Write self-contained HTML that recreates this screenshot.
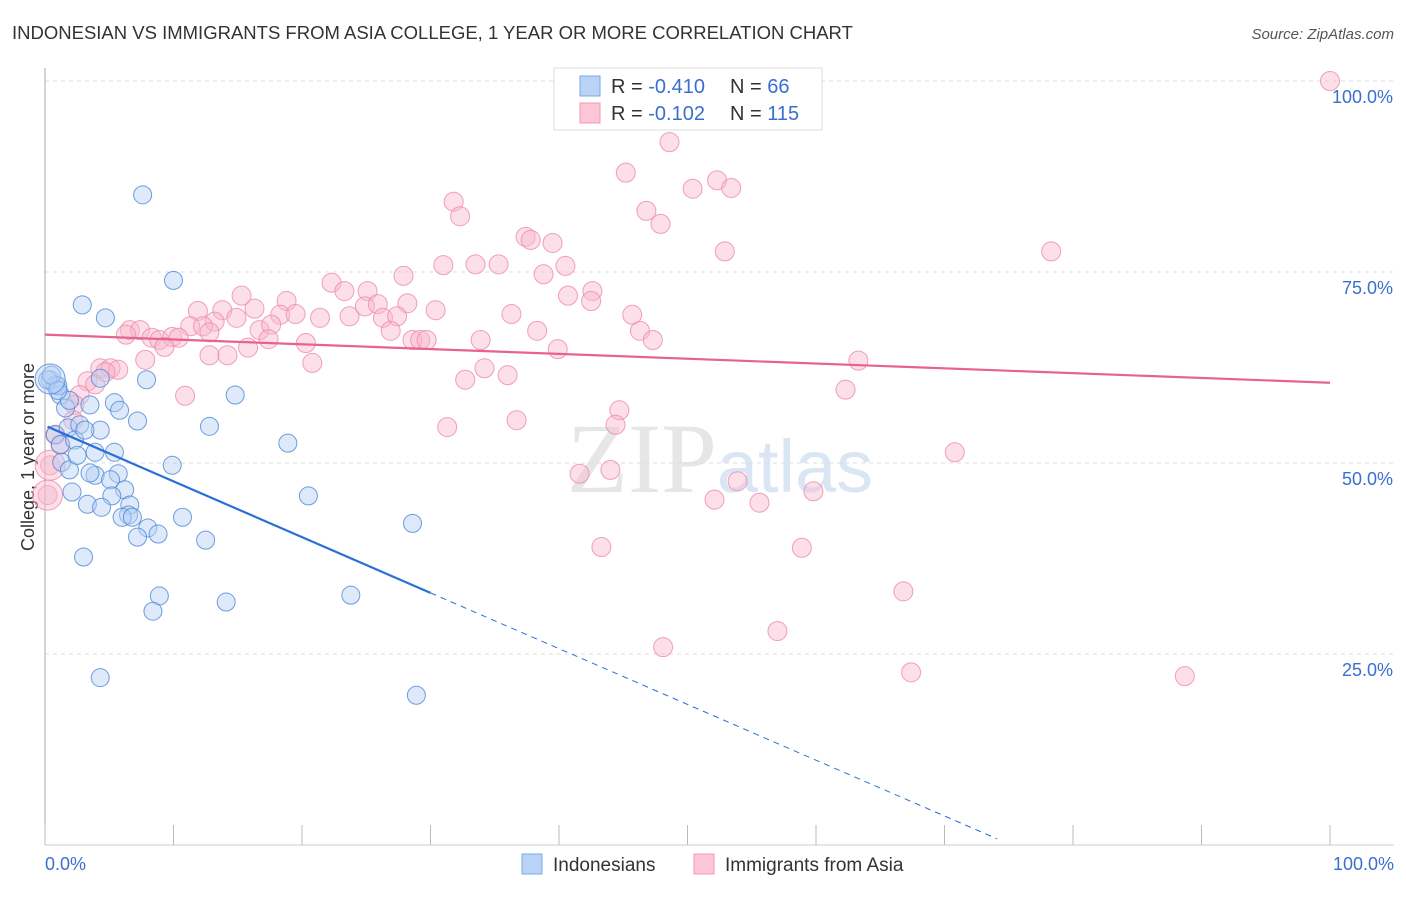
<!DOCTYPE html>
<html><head><meta charset="utf-8">
<style>
body{margin:0;background:#fff;font-family:"Liberation Sans",sans-serif}
#wrap{position:relative;width:1406px;height:892px}
</style></head>
<body>
<div id="wrap">
<svg id="svg" width="1406" height="892" xmlns="http://www.w3.org/2000/svg">
<text x="12" y="39" font-size="18.5" fill="#333">INDONESIAN VS IMMIGRANTS FROM ASIA COLLEGE, 1 YEAR OR MORE CORRELATION CHART</text>
<text x="1394" y="39" font-size="15" fill="#555" font-style="italic" text-anchor="end">Source: ZipAtlas.com</text>
<text x="720" y="492" font-size="100" fill="#e6e6e6" text-anchor="middle" font-family="Liberation Serif">ZIP<tspan fill="#dbe6f4" font-family="Liberation Sans" font-size="74">atlas</tspan></text>
<text transform="translate(34,457) rotate(-90)" font-size="18" fill="#333" text-anchor="middle">College, 1 year or more</text>
<g id="grid"></g>
<g id="pts"></g>
<g id="lines"></g>
<g>
<rect x="554" y="68" width="268" height="62" fill="#fff" stroke="#ddd"/>
<rect x="580" y="76" width="20" height="20" fill="#b8d3f5" stroke="#7aa8e8"/>
<rect x="580" y="103" width="20" height="20" fill="#fcc6d6" stroke="#f09ab5"/>
<text x="611" y="93" font-size="20" fill="#333">R = <tspan fill="#3a6fd0">-0.410</tspan></text>
<text x="730" y="93" font-size="20" fill="#333">N = <tspan fill="#3a6fd0"> 66</tspan></text>
<text x="611" y="120" font-size="20" fill="#333">R = <tspan fill="#3a6fd0"> -0.102</tspan></text>
<text x="730" y="120" font-size="20" fill="#333">N = <tspan fill="#3a6fd0">115</tspan></text>
</g>
<g>
<rect x="522" y="854" width="20" height="20" fill="#b8d3f5" stroke="#7aa8e8"/>
<text x="553" y="871" font-size="19" fill="#333">Indonesians</text>
<rect x="694" y="854" width="20" height="20" fill="#fcc6d6" stroke="#f09ab5"/>
<text x="725" y="871" font-size="19" fill="#333">Immigrants from Asia</text>
</g>
</svg>
</div>
<script>
const xTicks=[0,10,20,30,40,50,60,70,80,90,100];
const yTicks=[25,50,75,100];
const yTickLabels=["25.0%","50.0%","75.0%","100.0%"];
const xEndLabels=["0.0%","100.0%"];
const blueX=[7.6,10.0,2.9,4.7,7.9,14.8,0.4,0.8,1.2,4.3,1.6,3.5,5.4,5.8,7.2,12.8,18.9,9.9,0.8,1.8,2.7,4.3,1.2,2.3,1.3,3.9,5.4,1.9,3.9,5.7,3.5,5.1,6.2,2.1,5.2,3.3,4.4,6.6,6.5,6.0,6.8,8.0,8.8,7.2,10.7,12.5,20.5,28.6,3.0,8.9,8.4,14.1,23.8,4.3,28.9,1.0,0.2,1.9,3.1,2.5,0.5,1.0];
const blueY=[85.1,73.9,70.7,69.0,60.9,58.9,60.9,60.2,58.9,61.1,57.2,57.6,57.9,56.9,55.5,54.8,52.6,49.7,53.7,54.6,55.0,54.3,52.4,53.0,50.1,51.4,51.4,49.1,48.4,48.6,48.7,47.8,46.5,46.2,45.7,44.6,44.2,44.5,43.2,42.9,42.9,41.5,40.7,40.3,42.9,39.9,45.7,42.1,37.7,32.6,30.6,31.8,32.7,21.9,19.6,60.1,60.9,58.2,54.3,51.0,61.5,59.5];
const pinkX=[100,48.6,45.2,50.4,52.3,53.4,31.8,32.3,46.8,47.9,37.4,37.8,39.5,52.9,78.3,31.0,33.5,35.3,40.5,38.8,27.9,22.3,23.3,25.1,15.3,18.8,11.9,13.8,16.3,18.3,19.5,21.4,23.7,24.9,25.9,28.2,30.4,26.3,27.4,36.3,40.7,42.6,42.5,45.7,46.3,47.3,14.9,13.2,11.3,12.3,12.8,16.7,17.6,17.4,26.9,28.6,29.2,29.7,33.9,38.3,39.9,6.6,7.4,6.3,8.3,8.9,9.9,10.4,9.3,15.8,12.8,14.2,20.3,7.8,20.8,4.3,5.1,5.7,3.3,3.9,4.7,2.7,10.9,32.7,34.2,36.0,63.3,62.3,2.3,2.2,44.7,44.4,36.7,31.3,41.6,44.0,53.9,52.1,55.6,59.8,70.8,43.3,58.9,66.8,57.0,48.1,67.4,88.7,0.4,0.2,0.8,1.2];
const pinkY=[100,92.0,88.0,85.9,87.0,86.0,84.2,82.3,83.0,81.3,79.6,79.2,78.8,77.7,77.7,75.9,76.0,76.0,75.8,74.7,74.5,73.6,72.5,72.5,71.9,71.2,69.9,70.0,70.2,69.4,69.5,69.0,69.2,70.5,70.8,70.9,70.0,69.0,69.2,69.5,71.9,72.5,71.2,69.4,67.3,66.1,69.0,68.5,67.9,67.9,67.1,67.4,68.1,66.2,67.3,66.1,66.1,66.1,66.1,67.3,64.9,67.4,67.4,66.8,66.4,66.1,66.5,66.4,65.2,65.1,64.1,64.1,65.7,63.5,63.1,62.4,62.4,62.2,60.7,60.3,61.9,58.9,58.8,60.9,62.4,61.5,63.4,59.6,57.6,55.6,56.9,55.0,55.6,54.7,48.6,49.1,47.6,45.2,44.8,46.3,51.4,39.0,38.9,33.2,28.0,25.9,22.6,22.1,49.7,45.8,53.7,52.4];
const bigBlueX=[0.4], bigBlueY=[61.0];
const bigPinkX=[0.2,0.4], bigPinkY=[45.8,49.7];
const blueLine=[54.9,-0.73], blueSolidEnd=30, blueDashEnd=74.1;
const pinkLine=[66.8,-0.063];

const X0=45,X1=1330,Y0=845,Y1=81;
const sx=v=>X0+(X1-X0)*v/100;
const sy=v=>Y0-(Y0-Y1)*v/100;
const NS="http://www.w3.org/2000/svg";
function mk(tag,attrs,parent){const e=document.createElementNS(NS,tag);for(const k in attrs)e.setAttribute(k,attrs[k]);parent.appendChild(e);return e;}
const grid=document.getElementById('grid'),pts=document.getElementById('pts'),lines=document.getElementById('lines');
yTicks.forEach((t,i)=>{
  const l=mk('line',{x1:X0,x2:1394,y1:sy(t),y2:sy(t),stroke:'#ddd','stroke-dasharray':'4,4'},grid);
  
  
  const tx=mk('text',{x:1393,y:sy(t)+22,'font-size':18,fill:'#3a6fd0','text-anchor':'end'},grid);
  tx.textContent=yTickLabels[i];
  
  
});
const ax=mk('line',{x1:X0,x2:X0,y1:68,y2:Y0,stroke:'#aaa'},grid);


const bx=mk('line',{x1:X0,x2:1394,y1:Y0,y2:Y0,stroke:'#ccc'},grid);


xTicks.forEach(t=>{
  const l=mk('line',{x1:sx(t),x2:sx(t),y1:Y0,y2:Y0-20,stroke:'#bbb'},grid);
  
  
});
[[0,'start',X0],[100,'end',1394]].forEach((d,i)=>{
  const tx=mk('text',{x:d[2],y:870,'font-size':18,fill:'#3a6fd0','text-anchor':d[1]},grid);
  tx.textContent=xEndLabels[i];
  
  
});
function dots(xs,ys,r,fill,stroke,name){
  xs.forEach((x,i)=>{
    const c=mk('circle',{cx:sx(x),cy:sy(ys[i]),r:r,fill:fill,'fill-opacity':0.45,stroke:stroke,'stroke-opacity':0.8,'stroke-width':1},pts);
    
    
  });
}
dots(pinkX,pinkY,9.5,'#f8b8cc','#ee8aaa','immigrants-point');
dots(bigPinkX,bigPinkY,15,'#f8b8cc','#ee8aaa','immigrants-point');
dots(blueX,blueY,9,'#b5d0f3','#4a86d8','indonesians-point');
dots(bigBlueX,bigBlueY,15,'#b5d0f3','#4a86d8','indonesians-point');
const bf=x=>blueLine[0]+blueLine[1]*x, pf=x=>pinkLine[0]+pinkLine[1]*x;
let l=mk('line',{x1:sx(0.2),y1:sy(bf(0.2)),x2:sx(blueSolidEnd),y2:sy(bf(blueSolidEnd)),stroke:'#2a6fd6','stroke-width':2.2},lines);


l=mk('line',{x1:sx(blueSolidEnd),y1:sy(bf(blueSolidEnd)),x2:sx(blueDashEnd),y2:sy(bf(blueDashEnd)),stroke:'#2a6fd6','stroke-width':1,'stroke-dasharray':'6,5'},lines);


l=mk('line',{x1:sx(0),y1:sy(pf(0)),x2:sx(100),y2:sy(pf(100)),stroke:'#e8628e','stroke-width':2.2},lines);


</script>
</body></html>
